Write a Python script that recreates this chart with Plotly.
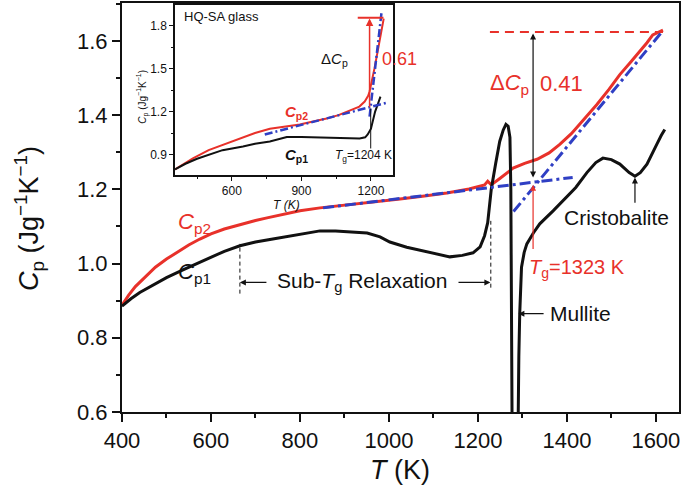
import plotly.graph_objects as go

RED = "#e8312a"
BLUE = "#2f3fc4"
BLACK = "#111111"
FONT = "Arial, Liberation Sans, sans-serif"

# ---------------- main panel data ----------------
T_cp2 = [400, 415, 430, 450, 475, 500, 525, 550, 575, 600, 630, 665, 700, 726, 800, 845,
         900, 980, 1025, 1080, 1130, 1180, 1215, 1222, 1230, 1250, 1279, 1305, 1333, 1360,
         1384, 1410, 1429, 1450, 1467, 1495, 1519, 1545, 1564, 1580, 1593, 1605, 1616]
cp2 = [0.888, 0.915, 0.938, 0.962, 0.990, 1.012, 1.032, 1.050, 1.066, 1.080, 1.093, 1.105,
       1.116, 1.123, 1.142, 1.150, 1.157, 1.168, 1.174, 1.182, 1.190, 1.201, 1.212, 1.222,
       1.212, 1.230, 1.257, 1.270, 1.281, 1.298, 1.321, 1.350, 1.375, 1.405, 1.428, 1.470,
       1.509, 1.545, 1.571, 1.595, 1.616, 1.622, 1.629]

T_cp1 = [400, 420, 440, 463, 500, 537, 570, 598, 630, 665, 700, 739, 780, 816, 845, 880,
         928, 951, 980, 1002, 1040, 1076, 1110, 1137, 1165, 1189, 1205, 1215, 1222, 1230,
         1240, 1249, 1257, 1263, 1268, 1272, 1274, 1275, 1276, 1278, 1288, 1290, 1292, 1294,
         1298, 1304, 1310, 1325, 1339, 1369, 1400, 1420, 1445, 1465, 1481, 1500, 1519, 1540,
         1553, 1565, 1580, 1592, 1602, 1612, 1620]
cp1 = [0.885, 0.905, 0.922, 0.937, 0.962, 0.983, 1.000, 1.016, 1.033, 1.048, 1.058, 1.066,
       1.075, 1.083, 1.088, 1.088, 1.085, 1.082, 1.072, 1.058, 1.044, 1.034, 1.026, 1.018,
       1.022, 1.029, 1.045, 1.075, 1.110, 1.200, 1.270, 1.329, 1.360, 1.375, 1.370, 1.340,
       1.200, 0.900, 0.600, 0.300, 0.300, 0.600, 0.750, 0.865, 0.990, 1.030, 1.053, 1.083,
       1.107, 1.142, 1.180, 1.205, 1.245, 1.272, 1.284, 1.280, 1.268, 1.245, 1.235, 1.245,
       1.268, 1.295, 1.321, 1.345, 1.361]

T_fit_glass = [852, 1413]
cp_fit_glass = [1.150, 1.232]
T_fit_liquid = [1280, 1612]
cp_fit_liquid = [1.140, 1.622]

T_dcp_level = [1227, 1616]
cp_dcp_level = [1.624, 1.624]

T_sub_left = [665, 665]
cp_sub_left = [0.919, 1.053]
T_sub_right = [1229, 1229]
cp_sub_right = [0.935, 1.115]

# ---------------- inset data ----------------
Ti_cp2 = [355, 400, 432, 500, 579, 650, 700, 764, 830, 893, 950, 1009, 1060, 1121, 1150,
          1173, 1188, 1194, 1200, 1215, 1230, 1245, 1255]
cpi2 = [0.795, 0.840, 0.872, 0.930, 0.977, 1.020, 1.050, 1.080, 1.095, 1.109, 1.130, 1.151,
        1.175, 1.214, 1.235, 1.270, 1.310, 1.340, 1.380, 1.500, 1.630, 1.760, 1.850]
Ti_cp1 = [355, 400, 450, 506, 560, 648, 700, 764, 800, 837, 900, 1009, 1080, 1151, 1175,
          1186, 1200, 1207, 1218, 1229, 1241]
cpi1 = [0.795, 0.835, 0.870, 0.900, 0.930, 0.956, 0.975, 0.990, 1.005, 1.022, 1.022, 1.019,
        1.017, 1.012, 1.020, 1.040, 1.080, 1.130, 1.200, 1.249, 1.305]
Ti_fit_glass = [742, 1272]
cpi_fit_glass = [1.040, 1.263]
Ti_fit_liquid = [1194, 1246]
cpi_fit_liquid = [1.165, 1.898]
Ti_level = [1143, 1254]
cpi_level = [1.856, 1.856]
Ti_tg_line = [1199, 1199]
cpi_tg_line = [0.942, 1.221]

fig = go.Figure()

def line(x, y, color, width, dash="solid", ax="x", ay="y"):
    fig.add_trace(go.Scatter(x=x, y=y, mode="lines", xaxis=ax, yaxis=ay,
                             line=dict(color=color, width=width, dash=dash),
                             showlegend=False, hoverinfo="skip"))

# main traces
line(T_sub_left, cp_sub_left, BLACK, 1, "4px,3px")
line(T_sub_right, cp_sub_right, BLACK, 1, "4px,3px")
line(T_cp2, cp2, RED, 3)
line(T_cp1, cp1, BLACK, 3)
line(T_fit_glass, cp_fit_glass, BLUE, 3, "11px,4px,3px,4px")
line(T_fit_liquid, cp_fit_liquid, BLUE, 3, "11px,4px,3px,4px")
line(T_dcp_level, cp_dcp_level, RED, 2, "9px,6px")

# inset traces
line(Ti_cp2, cpi2, RED, 2, ax="x2", ay="y2")
line(Ti_cp1, cpi1, BLACK, 2, ax="x2", ay="y2")
line(Ti_fit_glass, cpi_fit_glass, BLUE, 2.5, "8px,3px,2px,3px", ax="x2", ay="y2")
line(Ti_fit_liquid, cpi_fit_liquid, BLUE, 2.5, "8px,3px,2px,3px", ax="x2", ay="y2")
line(Ti_level, cpi_level, RED, 2, ax="x2", ay="y2")
line(Ti_tg_line, cpi_tg_line, BLACK, 1, ax="x2", ay="y2")

ann = []

def text(x, y, s, size, color=BLACK, xref="x", yref="y", xanchor="center", yanchor="middle", **kw):
    d = dict(x=x, y=y, xref=xref, yref=yref, text=s, showarrow=False,
             xanchor=xanchor, yanchor=yanchor,
             font=dict(family=FONT, size=size, color=color))
    d.update(kw)
    ann.append(d)

def arrow(x, y, ax_, ay_, color=BLACK, xref="x", yref="y", width=1.2, side="end", size=1.0):
    ann.append(dict(x=x, y=y, ax=ax_, ay=ay_, xref=xref, yref=yref, axref=xref, ayref=yref,
                    text="", showarrow=True, arrowhead=2, arrowsize=size, arrowwidth=width,
                    arrowcolor=color, arrowside=side, startarrowhead=2, startarrowsize=size,
                    standoff=0, startstandoff=0))

# main texts
text(564, 1.110, "<i>C</i><sub>p2</sub>", 22, RED)
text(564, 0.975, "<i>C</i><sub>p1</sub>", 22, BLACK)
text(939, 0.949, "Sub-<i>T</i><sub>g</sub> Relaxation", 21)
arrow(665, 0.949, 728, 0.949)
arrow(1228, 0.949, 1153, 0.949)
text(1431, 0.865, "Mullite", 21)
arrow(1291, 0.865, 1351, 0.865)
text(1512, 1.123, "Cristobalite", 21)
arrow(1553, 1.232, 1553, 1.160)
text(1270, 1.485, "Δ<i>C</i><sub>p</sub>", 22, RED)
text(1387, 1.485, "0.41", 22, RED)
arrow(1324, 1.620, 1324, 1.228, side="end+start")
arrow(1324, 1.212, 1324, 1.035, color=RED)
text(1422, 0.986, "<i>T</i><sub>g</sub>=1323 K", 20, RED)

# axis titles
text(0.499, -0.141, "<i>T</i> (K)", 27, xref="paper", yref="paper")
text(-0.167, 0.474, "<i>C</i><sub>p</sub> (Jg<sup>−1</sup>K<sup>−1</sup>)", 27,
     xref="paper", yref="paper", textangle=-90)

# inset texts
text(385, 1.863, "HQ-SA glass", 13, xref="x2", yref="y2", xanchor="left")
text(1044, 1.563, "Δ<i>C</i><sub>p</sub>", 15, xref="x2", yref="y2")
text(0.499, 0.864, "0.61", 18, RED, xref="paper", yref="paper")
text(880, 1.19, "<b><i>C</i><sub>p2</sub></b>", 15, RED, xref="x2", yref="y2")
text(880, 0.89, "<b><i>C</i><sub>p1</sub></b>", 15, BLACK, xref="x2", yref="y2")
text(1169, 0.89, "<i>T</i><sub>g</sub>=1204 K", 12, xref="x2", yref="y2")
arrow(1194, 1.85, 1194, 1.22, color=RED, xref="x2", yref="y2", width=1.5)
text(0.296, 0.506, "<i>T (K)</i>", 12, xref="paper", yref="paper")
text(0.036, 0.771, "<i>C</i><sub>p</sub> (Jg<sup>−1</sup>K<sup>−1</sup>)", 10,
     xref="paper", yref="paper", textangle=-90)

axis_common = dict(showline=True, linecolor=BLACK, mirror=True, ticks="outside",
                   tickcolor=BLACK, showgrid=False, zeroline=False)

fig.update_layout(
    width=685, height=491,
    margin=dict(l=122, r=6, t=1, b=79, pad=0),
    paper_bgcolor="white", plot_bgcolor="white",
    font=dict(family=FONT, color=BLACK),
    showlegend=False,
    annotations=ann,
    xaxis=dict(axis_common, range=[400, 1652], domain=[0, 1], anchor="y",
               linewidth=2, ticklen=8, tickwidth=2, tick0=400, dtick=200,
               tickfont=dict(size=22),
               minor=dict(ticks="outside", ticklen=4, tickwidth=1.5, tickcolor=BLACK,
                          tick0=400, dtick=100, showgrid=False)),
    yaxis=dict(axis_common, range=[0.6, 1.702], domain=[0, 1], anchor="x",
               linewidth=2, ticklen=8, tickwidth=2, tick0=0.6, dtick=0.2,
               tickformat=".1f", tickfont=dict(size=22),
               minor=dict(ticks="outside", ticklen=4, tickwidth=1.5, tickcolor=BLACK,
                          tick0=0.6, dtick=0.1, showgrid=False)),
    xaxis2=dict(axis_common, range=[355, 1295], domain=[0.0952, 0.4865], anchor="y2",
                linewidth=1.5, ticklen=4, tickwidth=1, tick0=0, dtick=300,
                tickfont=dict(size=12),
                minor=dict(ticks="outside", ticklen=2.5, tickwidth=1, tickcolor=BLACK,
                           tick0=0, dtick=150, showgrid=False)),
    yaxis2=dict(axis_common, range=[0.755, 1.945], domain=[0.579, 0.995], anchor="x2",
                linewidth=1.5, ticklen=4, tickwidth=1, tick0=0.9, dtick=0.3,
                tickformat=".1f", tickfont=dict(size=12),
                minor=dict(ticks="outside", ticklen=2.5, tickwidth=1, tickcolor=BLACK,
                           tick0=0.9, dtick=0.15, showgrid=False)),
)

fig.write_html("out.html", config={"displayModeBar": False},
               post_script="document.body.style.margin='0';document.body.style.overflow='hidden';")
